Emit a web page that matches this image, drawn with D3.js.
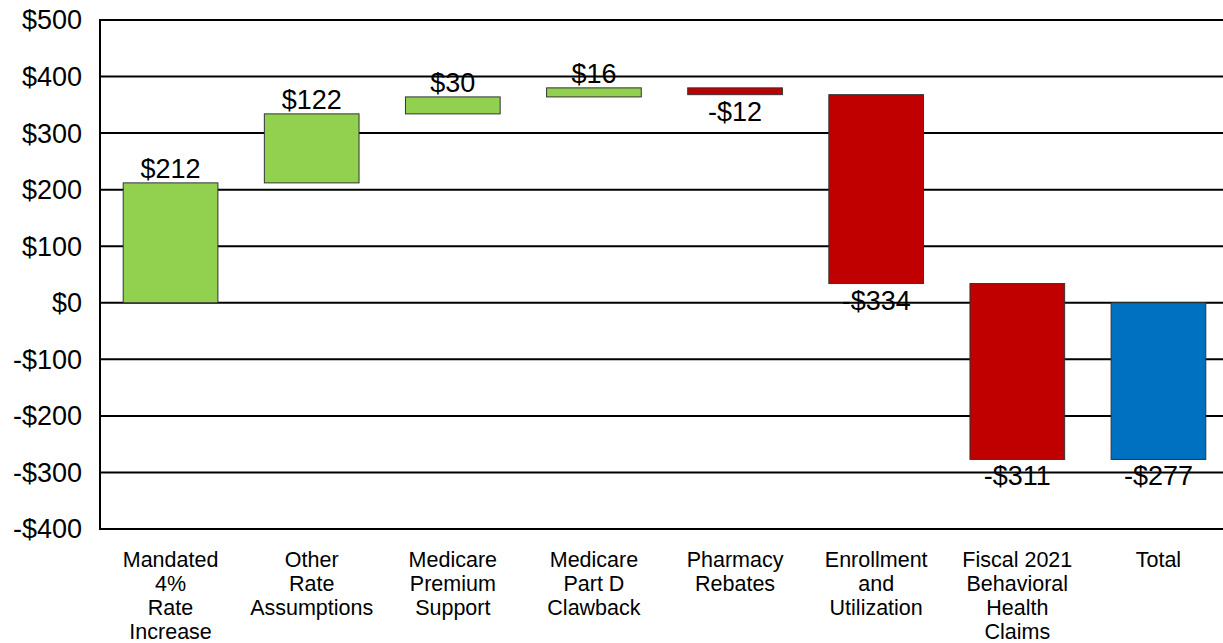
<!DOCTYPE html>
<html>
<head>
<meta charset="utf-8">
<script src="https://cdn.jsdelivr.net/npm/d3@7"></script>
<style>
  html, body { margin: 0; padding: 0; background: #fff; }
  svg { display: block; font-family: "Liberation Sans", Arial, sans-serif; }
</style>
</head>
<body>
<svg id="chart" width="1223" height="643"></svg>
<script>
// ---- data ----
const categories = [
  "Mandated 4% Rate Increase",
  "Other Rate Assumptions",
  "Medicare Premium Support",
  "Medicare Part D Clawback",
  "Pharmacy Rebates",
  "Enrollment and Utilization",
  "Fiscal 2021 Behavioral Health Claims",
  "Total"
];
const categoryLines = [
  ["Mandated", "4%", "Rate", "Increase"],
  ["Other", "Rate", "Assumptions"],
  ["Medicare", "Premium", "Support"],
  ["Medicare", "Part D", "Clawback"],
  ["Pharmacy", "Rebates"],
  ["Enrollment", "and", "Utilization"],
  ["Fiscal 2021", "Behavioral", "Health", "Claims"],
  ["Total"]
];
const changes = [212, 122, 30, 16, -12, -334, -311];
const valueLabels = ["$212", "$122", "$30", "$16", "-$12", "-$334", "-$311", "-$277"];
const yTicks = [-400, -300, -200, -100, 0, 100, 200, 300, 400, 500];
const yTickLabels = ["-$400", "-$300", "-$200", "-$100", "$0", "$100", "$200", "$300", "$400", "$500"];

// ---- waterfall build ----
const bars = [];
let running = 0;
changes.forEach((v, i) => {
  const start = running;
  running += v;
  bars.push({cat: categories[i], start: start, end: running, value: v, type: v >= 0 ? "up" : "down", label: valueLabels[i]});
});
bars.push({cat: categories[7], start: 0, end: running, value: running, type: "total", label: valueLabels[7]});

const colors = {up: "#92D050", down: "#C00000", total: "#0070C0"};

// ---- layout ----
const svg = d3.select("#chart");
const plotLeft = 100, plotRight = 1229, plotTop = 20, plotBottom = 529;

const x = d3.scaleBand().domain(categories).range([plotLeft, plotRight])
  .paddingInner(0.329).paddingOuter(0.1645);
const y = d3.scaleLinear().domain([-400, 500]).range([plotBottom, plotTop]);

// gridlines
svg.append("g").selectAll("line").data(yTicks).join("line")
  .attr("x1", plotLeft).attr("x2", plotRight)
  .attr("y1", d => y(d)).attr("y2", d => y(d))
  .attr("stroke", "#000").attr("stroke-width", 2);

// left axis line
svg.append("line").attr("x1", plotLeft).attr("x2", plotLeft)
  .attr("y1", y(500) - 1).attr("y2", y(-400) + 1)
  .attr("stroke", "#000").attr("stroke-width", 2);

// y tick labels
svg.append("g").selectAll("text").data(yTicks).join("text")
  .attr("x", 82).attr("y", d => y(d))
  .attr("dy", "0.35em")
  .attr("text-anchor", "end")
  .attr("font-size", 27)
  .attr("fill", "#000")
  .text((d, i) => yTickLabels[i]);

// bars
svg.append("g").selectAll("rect").data(bars).join("rect")
  .attr("x", d => x(d.cat))
  .attr("width", x.bandwidth())
  .attr("y", d => y(Math.max(d.start, d.end)))
  .attr("height", d => Math.abs(y(d.start) - y(d.end)))
  .attr("fill", d => colors[d.type])
  .attr("stroke", "#333").attr("stroke-width", 1);

// value labels
svg.append("g").selectAll("text").data(bars).join("text")
  .attr("x", d => x(d.cat) + x.bandwidth() / 2)
  .attr("y", d => d.type === "up" ? y(d.end) - 5 : y(Math.min(d.start, d.end)) + 26)
  .attr("text-anchor", "middle")
  .attr("font-size", 27)
  .attr("fill", "#000")
  .text(d => d.label);

// category labels
const catG = svg.append("g").selectAll("text").data(categories).join("text")
  .attr("x", d => x(d) + x.bandwidth() / 2)
  .attr("y", 567)
  .attr("text-anchor", "middle")
  .attr("font-size", 21.5)
  .attr("fill", "#000");
catG.each(function(d, i) {
  const t = d3.select(this);
  categoryLines[i].forEach((line, j) => {
    t.append("tspan").attr("x", x(d) + x.bandwidth() / 2).attr("dy", j === 0 ? 0 : 24).text(line);
  });
});
</script>
</body>
</html>
